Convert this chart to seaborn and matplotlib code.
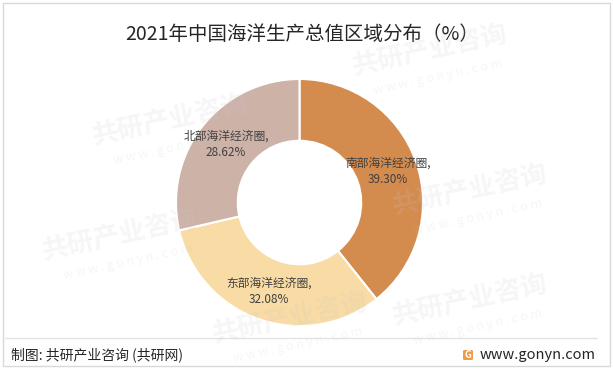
import matplotlib
matplotlib.use("Agg")
import matplotlib.pyplot as plt
import seaborn as sns
from matplotlib.patches import Rectangle, FancyBboxPatch
from matplotlib.lines import Line2D
import numpy as np

# ---- data ----
regions = ["南部海洋经济圈", "东部海洋经济圈", "北部海洋经济圈"]
shares = [39.30, 32.08, 28.62]
colors_hex = ["#D48B4E", "#F8DBA5", "#CDB2A8"]
title = "2021年中国海洋生产总值区域分布（%）"
source = "制图: 共研产业咨询 (共研网)"
site = "www.gonyn.com"
watermark = "共研产业咨询"
watermark_site = "w w w . g o n y n . c o m"

sns.set_theme(style="white")
plt.rcParams['font.family'] = ['Noto Sans CJK SC', 'DejaVu Sans']
palette = sns.color_palette(colors_hex)

W, H = 613, 369
fig = plt.figure(figsize=(W / 100, H / 100), dpi=100)
fig.patch.set_facecolor("white")

# donut axes
cx, cy, R = 299.5, 202.5, 123.5
ax = fig.add_axes([(cx - R) / W, 1 - (cy + R) / H, 2 * R / W, 2 * R / H])
ax.set_facecolor("none")
wedges, _ = ax.pie(shares, colors=palette, startangle=90, counterclock=False,
                   radius=1.0, wedgeprops=dict(width=0.5, edgecolor="white", linewidth=1.5))
ax.set_xlim(-1, 1)
ax.set_ylim(-1, 1)
ax.set_aspect("equal")
ax.axis("off")

for w, name, val in zip(wedges, regions, shares):
    ang = np.deg2rad((w.theta1 + w.theta2) / 2)
    r = 0.76
    ax.text(r * np.cos(ang), r * np.sin(ang), f"{name},\n{val:.2f}%",
            ha="center", va="center", fontsize=8.5, color="#404040",
            linespacing=1.35)

# title
fig.text(302 / W, 1 - 35 / H, title, ha="center", va="center",
         fontsize=14, color="#262626")

# footer
fig.add_artist(Line2D([5 / W, 597 / W], [1 - 338 / H, 1 - 338 / H],
                      color="#E3E3E3", linewidth=1.0, transform=fig.transFigure))
fig.text(11 / W, 1 - 355 / H, source, ha="left", va="center",
         fontsize=10, color="#262626")
fig.text(596 / W, 1 - 355 / H, site, ha="right", va="center",
         fontsize=10.5, color="#262626")
# logo
fig.add_artist(FancyBboxPatch((463 / W, 1 - 360 / H), 10 / W, 10 / H,
                              boxstyle="round,pad=0,rounding_size=0.003",
                              facecolor="#F39A45", edgecolor="none",
                              transform=fig.transFigure))
fig.text(468 / W, 1 - 355 / H, "G", ha="center", va="center", fontsize=7,
         color="white", fontweight="bold")

# faint watermarks (kept inside the frame)
wm = [(170, 120), (430, 50), (470, 190), (120, 235), (470, 300), (290, 318)]
for (x, y) in wm:
    fig.text(x / W, 1 - y / H, watermark, ha="center", va="center",
             fontsize=19, fontweight="bold", color="#c8c8c8", alpha=0.16,
             rotation=12, zorder=10)
    fig.text((x + 8) / W, 1 - (y + 27) / H, watermark_site,
             ha="center", va="center", fontsize=9, color="#c8c8c8",
             alpha=0.16, rotation=12, zorder=10)

# border
fig.add_artist(Rectangle((3 / W, 3 / H), (W - 6) / W, (H - 6) / H,
                         fill=False, edgecolor="#D9D9D9", linewidth=1.0,
                         transform=fig.transFigure))

fig.savefig("out.png", dpi=100)
